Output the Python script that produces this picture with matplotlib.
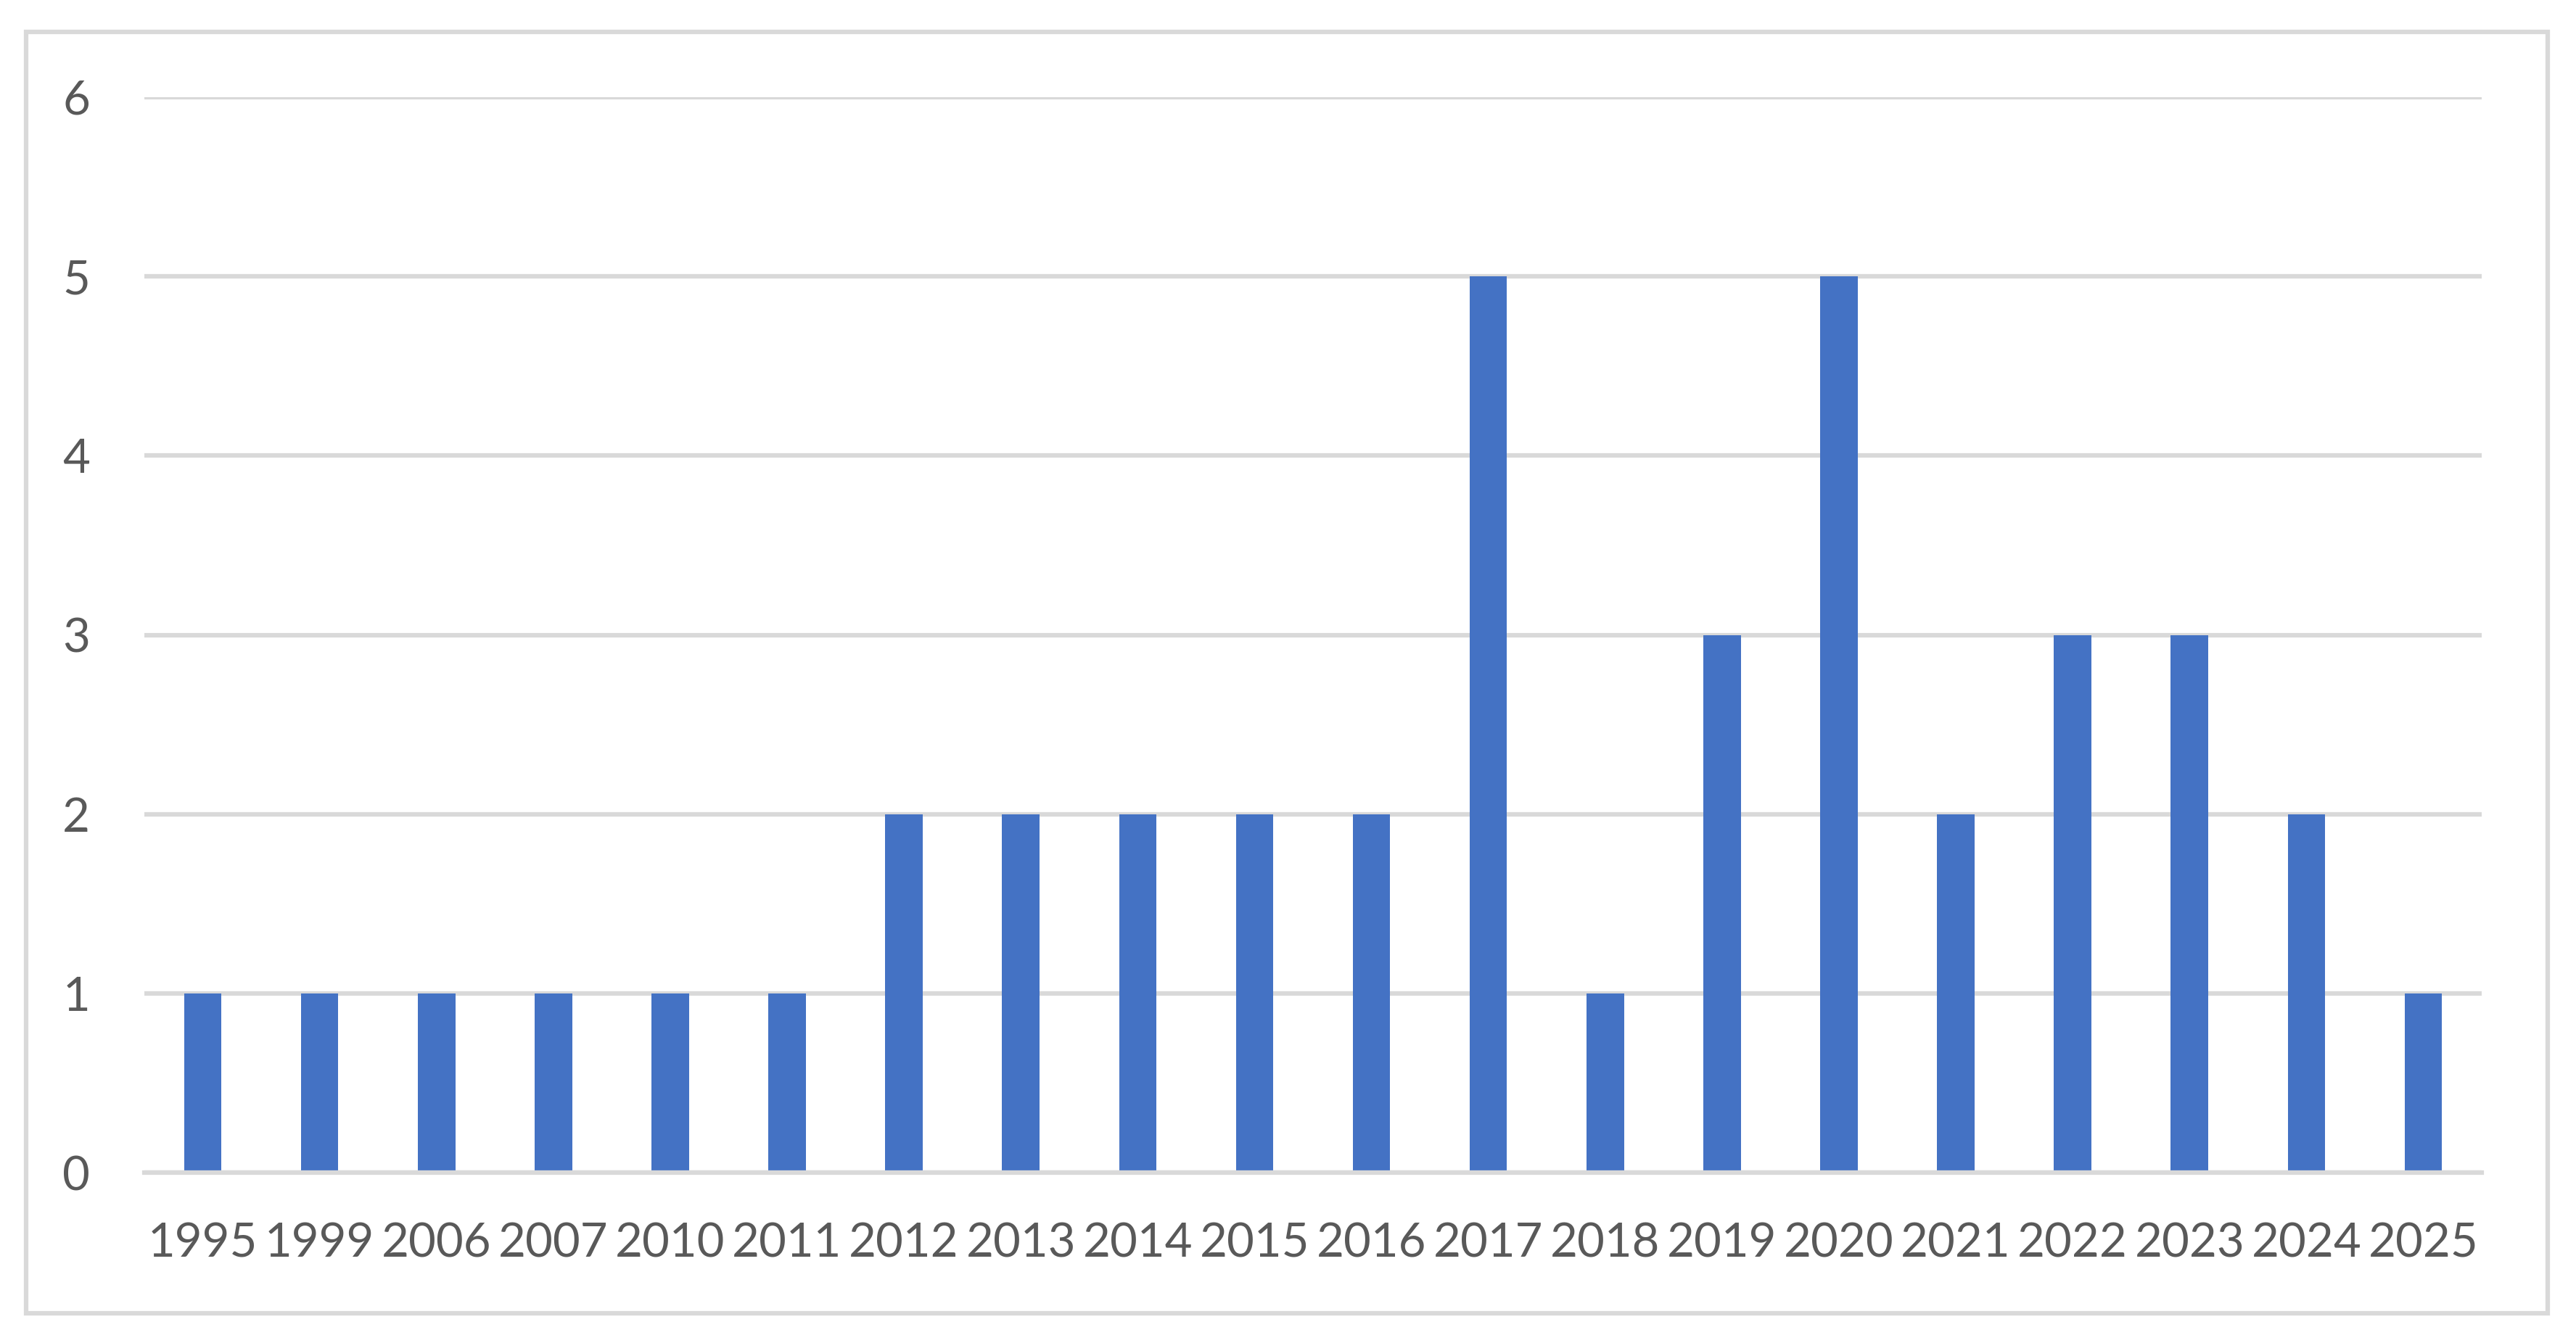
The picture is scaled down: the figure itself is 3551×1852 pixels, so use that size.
import matplotlib
matplotlib.use("Agg")
import matplotlib.pyplot as plt
from matplotlib.patches import Rectangle

# data
years = ["1995", "1999", "2006", "2007", "2010", "2011", "2012", "2013", "2014", "2015",
         "2016", "2017", "2018", "2019", "2020", "2021", "2022", "2023", "2024", "2025"]
counts = [1, 1, 1, 1, 1, 1, 2, 2, 2, 2, 2, 5, 1, 3, 5, 2, 3, 3, 2, 1]

W, H, DPI = 3551, 1852, 100
plt.rcParams['font.family'] = ['Lato', 'DejaVu Sans']

fig = plt.figure(figsize=(W / DPI, H / DPI), dpi=DPI)
# plot area in pixels: x 199..3421, y 134..1617
ax = fig.add_axes([199 / W, 1 - 1617 / H, (3421 - 199) / W, (1617 - 134) / H])

x = range(len(years))
ax.bar(x, counts, width=0.32, color="#4472C4", zorder=3)

ax.set_xlim(-0.5, len(years) - 0.5)
ax.set_ylim(0, 6)
ax.set_yticks(range(0, 7))
ax.set_xticks(list(x))
ax.set_xticklabels(years)

ax.grid(axis="y", color="#D9D9D9", linewidth=4.5, zorder=0)
for s in ["top", "right", "left"]:
    ax.spines[s].set_visible(False)
ax.spines["bottom"].set_color("#D9D9D9")
ax.spines["bottom"].set_linewidth(4.5)
ax.spines["bottom"].set_zorder(4)

ax.tick_params(axis="both", length=0, labelsize=47, colors="#595959")
ax.tick_params(axis="x", pad=49)
ax.tick_params(axis="y", pad=54)

# chart border
fig.patches.append(Rectangle((36 / W, 1 - 1811 / H), (3512 - 36) / W, (1811 - 44) / H,
                             transform=fig.transFigure, fill=False,
                             edgecolor="#D9D9D9", linewidth=4.5))

fig.savefig("out.png", dpi=DPI, facecolor="white")
